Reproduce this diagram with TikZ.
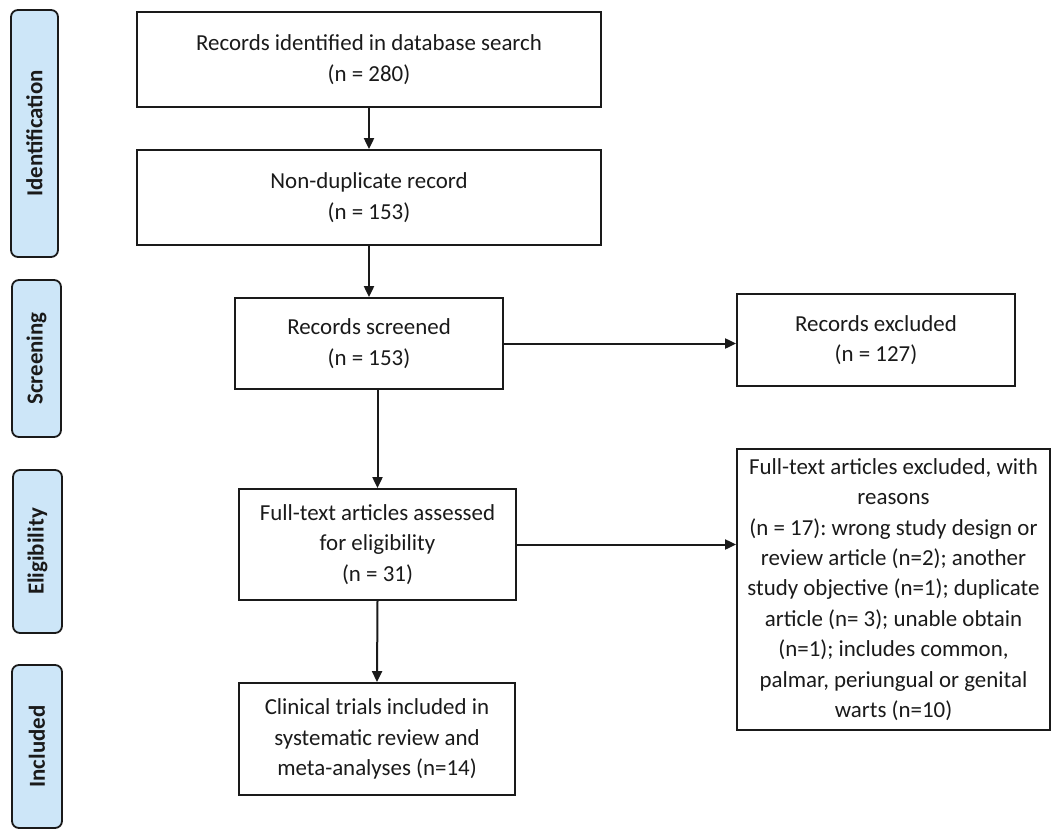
\documentclass[tikz,border=0pt]{standalone}
\usepackage{fontspec}
\setmainfont{Carlito}
\usetikzlibrary{arrows.meta}
\definecolor{phase}{HTML}{CDE6F8}
\definecolor{ink}{HTML}{1A1A1A}
\frenchspacing
\begin{document}
\begin{tikzpicture}[x=1bp,y=-1bp,
  box/.style={draw=ink,line width=1.8bp,fill=white,align=center,text=ink,
    font=\fontsize{23}{30.5}\selectfont,inner sep=2bp},
  phasebox/.style={draw=ink,line width=1.8bp,fill=phase,rounded corners=7bp,
    text=ink,font=\fontsize{23}{26}\bfseries\selectfont,rotate=90,inner sep=0pt},
  arr/.style={draw=ink,line width=2bp,-{Triangle[length=11bp,width=10bp]}}]
\useasboundingbox (0,0) rectangle (1052,830);
% phase labels
\node[phasebox,minimum width=247bp,minimum height=47bp] (pid) at (34.5,133.5) {Identification};
\node[phasebox,minimum width=157bp,minimum height=49bp] (psc) at (36.5,358.5) {Screening};
\node[phasebox,minimum width=163bp,minimum height=49bp] (pel) at (37.5,551.5) {Eligibility};
\node[phasebox,minimum width=163bp,minimum height=50bp] (pin) at (37,746.5) {Included};
% boxes
\node[box,minimum width=464bp,minimum height=95bp] (b1) at (369,59.5)
  {Records identified in database search\\(n = 280)};
\node[box,minimum width=464bp,minimum height=95bp] (b2) at (369,197.5)
  {Non-duplicate record\\(n = 153)};
\node[box,minimum width=268bp,minimum height=91bp] (b3) at (369,343.5)
  {Records screened\\(n = 153)};
\node[box,minimum width=278bp,minimum height=92bp] (ex1) at (876,340)
  {Records excluded\\(n = 127)};
\node[box,minimum width=277bp,minimum height=111bp] (b4) at (377.5,544.5)
  {Full-text articles assessed\\for eligibility\\(n = 31)};
\node[box,minimum width=313bp,minimum height=281bp] (ex2) at (893.5,589.5)
  {Full-text articles excluded, with\\reasons\\(n = 17): wrong study design or\\review article (n=2); another\\study objective (n=1); duplicate\\article (n= 3); unable obtain\\(n=1); includes common,\\palmar, periungual or genital\\warts (n=10)};
\node[box,minimum width=276bp,minimum height=112bp] (b5) at (377,739)
  {Clinical trials included in\\systematic review and\\meta-analyses (n=14)};
% connectors
\draw[arr] (b1.south) -- (b2.north);
\draw[arr] (b2.south) -- (b3.north);
\draw[arr] (b3.south -| b4.north) -- (b4.north);
\draw[arr] (b4.south) -- (b5.north);
\draw[arr] (b3.east) -- (b3.east -| ex1.west);
\draw[arr] (b4.east) -- (b4.east -| ex2.west);
\end{tikzpicture}
\end{document}
